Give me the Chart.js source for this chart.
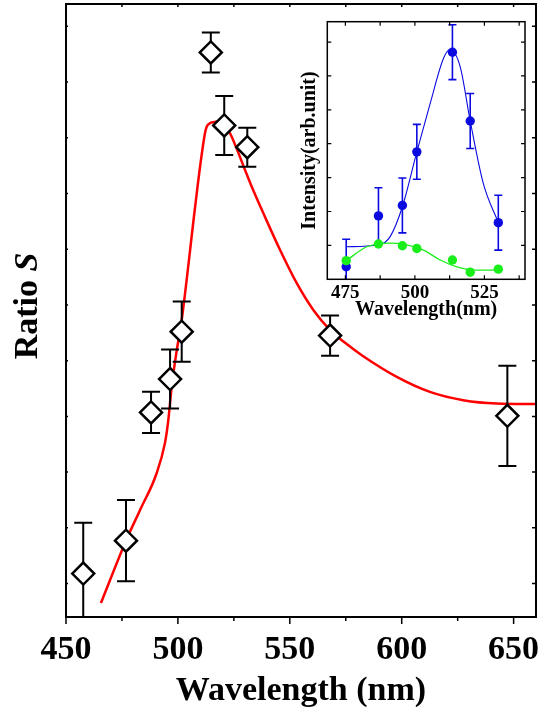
<!DOCTYPE html>
<html lang="en">
<head>
<meta charset="UTF-8">
<title>Ratio S vs Wavelength</title>
<script src="https://cdn.jsdelivr.net/npm/chart.js@4"></script>
<style>
  body { margin: 0; background: #fff; }
  #wrap { position: relative; width: 545px; height: 719px; }
  #mainChart { position: absolute; left: 0; top: 0; }
  #insetChart { position: absolute; left: 290px; top: 10px; }
</style>
</head>
<body>
<div id="wrap">
  <canvas id="mainChart" width="545" height="719"></canvas>
  <canvas id="insetChart" width="250" height="315"></canvas>
</div>
<script>
// main panel: ratio S at each wavelength (arb. units)
const wavelength = [457.7, 476.8, 488.0, 496.5, 501.7, 514.7, 520.7, 531.0, 568.0, 647.2];
const ratioS = [1.18, 1.77, 4.07, 4.67, 5.52, 10.53, 9.22, 8.83, 5.45, 4.01];
const ratioErr = [0.91, 0.73, 0.37, 0.53, 0.54, 0.36, 0.53, 0.35, 0.36, 0.90];

// red fit curve
const fitX = [465.6, 476.8, 483.1, 490.5, 494.2, 495.7, 497.2, 499.5, 501.7, 507.6, 509.9, 512.1, 512.9, 514.3, 515.8, 517.9, 520.5, 523.3, 526.3, 530.0, 533.0, 538.9, 545.6, 553.1, 560.5, 568.0, 574.7, 582.8, 597.8, 612.6, 627.5, 642.4, 660];
const fitY = [0.65, 1.77, 2.32, 2.98, 3.52, 3.93, 4.53, 5.19, 5.73, 7.73, 8.48, 9.08, 9.20, 9.26, 9.28, 9.29, 9.22, 9.08, 8.80, 8.42, 8.12, 7.58, 6.99, 6.39, 5.91, 5.55, 5.32, 5.08, 4.71, 4.44, 4.29, 4.23, 4.22];

const mainXTicks = [450, 475, 500, 525, 550, 575, 600, 625, 650];
const mainXLabels = [450, 500, 550, 600, 650];
const mainYTicks = [1, 2, 3, 4, 5, 6, 7, 8, 9, 10, 11];

// inset: intensity spectra
const insetX = [475.3, 486.9, 495.5, 500.7, 513.5, 519.9, 530.0];
const blueI = [0.37, 1.87, 2.18, 3.76, 6.70, 4.67, 1.67];
const blueErr = [0.81, 0.83, 0.81, 0.81, 0.81, 0.81, 0.81];
const greenI = [0.55, 1.04, 0.99, 0.91, 0.57, 0.21, 0.30];

const blueFitX = [475.3, 486.9, 491.1, 495.5, 500.7, 505.5, 510.3, 512.6, 516.3, 519.9, 524.6, 530.0];
const blueFitY = [0.96, 1.01, 1.26, 2.14, 3.76, 5.19, 6.52, 6.78, 6.27, 4.67, 2.83, 1.67];
const greenFitX = [475.3, 482.7, 491.1, 495.9, 503.1, 509.1, 515.1, 522.3, 530.0];
const greenFitY = [0.55, 0.96, 1.07, 1.04, 0.86, 0.57, 0.37, 0.27, 0.27];

const insetXTicks = [475, 487.5, 500, 512.5, 525, 537.5];
const insetXLabels = [475, 500, 525];
const insetYTicks = [1, 2, 3, 4, 5, 6, 7];

const pts = (xs, ys) => xs.map((x, i) => ({ x: x, y: ys[i] }));

Chart.defaults.font.family = "'Liberation Serif', 'Times New Roman', serif";
Chart.defaults.color = '#000';

// vertical error bars, drawn just under the points of their dataset
const errorBarPlugin = {
  id: 'errorBars',
  beforeDatasetDraw(chart, args) {
    const ds = chart.data.datasets[args.index];
    if (!ds.errors) return;
    const { ctx, chartArea: a } = chart;
    const xs = chart.scales.x, ys = chart.scales.y;
    ctx.save();
    ctx.beginPath();
    ctx.rect(a.left, a.top, a.right - a.left, a.bottom - a.top);
    ctx.clip();
    ctx.strokeStyle = ds.errorColor;
    ctx.lineWidth = ds.errorWidth;
    ctx.beginPath();
    ds.data.forEach((p, i) => {
      const px = xs.getPixelForValue(p.x);
      const top = ys.getPixelForValue(p.y + ds.errors[i]);
      const bot = ys.getPixelForValue(p.y - ds.errors[i]);
      ctx.moveTo(px, top); ctx.lineTo(px, bot);
      ctx.moveTo(px - ds.errorCap, top); ctx.lineTo(px + ds.errorCap, top);
      ctx.moveTo(px - ds.errorCap, bot); ctx.lineTo(px + ds.errorCap, bot);
    });
    ctx.stroke();
    ctx.restore();
  }
};

// box round the plot with small tick marks on all four sides
const framePlugin = {
  id: 'frame',
  afterDatasetsDraw(chart, args, o) {
    const { ctx, chartArea: a } = chart;
    const xs = chart.scales.x, ys = chart.scales.y;
    ctx.save();
    ctx.strokeStyle = '#000';
    ctx.lineWidth = o.tickWidth;
    ctx.beginPath();
    xs.ticks.forEach(t => {
      const p = xs.getPixelForValue(t.value);
      const len = t.label ? o.xMajor : o.xMinor;
      ctx.moveTo(p, a.bottom); ctx.lineTo(p, a.bottom + o.bottomDir * len);
      ctx.moveTo(p, a.top); ctx.lineTo(p, a.top + o.topLen);
    });
    ys.ticks.forEach(t => {
      const p = ys.getPixelForValue(t.value);
      ctx.moveTo(a.left, p); ctx.lineTo(a.left + o.leftLen, p);
      ctx.moveTo(a.right, p); ctx.lineTo(a.right - o.rightLen, p);
    });
    ctx.stroke();
    ctx.lineWidth = o.border;
    ctx.strokeRect(a.left, a.top, a.right - a.left, a.bottom - a.top);
    ctx.restore();
  }
};

// y title "Ratio S" with the S in italics
const yTitlePlugin = {
  id: 'yTitle',
  afterDraw(chart, args, o) {
    if (!o.text) return;
    const ctx = chart.ctx;
    const bold = "bold 34px 'Liberation Serif', 'Times New Roman', serif";
    const italic = "italic bold 34px 'Liberation Serif', 'Times New Roman', serif";
    ctx.save();
    ctx.translate(o.x, o.y);
    ctx.rotate(-Math.PI / 2);
    ctx.fillStyle = '#000';
    ctx.textBaseline = 'alphabetic';
    ctx.font = bold;
    const w1 = ctx.measureText(o.text).width;
    ctx.font = italic;
    const w2 = ctx.measureText(o.symbol).width;
    let x = -(w1 + w2) / 2;
    ctx.font = bold;
    ctx.fillText(o.text, x, 0);
    ctx.font = italic;
    ctx.fillText(o.symbol, x + w1, 0);
    ctx.restore();
  }
};

// fixed box sizes so the plot area sits where the original has it
const fixX = h => s => { s.height = h; s.paddingLeft = 0; s.paddingRight = 0; };
const fixY = w => s => { s.width = w; s.paddingTop = 0; s.paddingBottom = 0; };

new Chart(document.getElementById('mainChart'), {
  type: 'scatter',
  data: {
    datasets: [
      {
        label: 'S',
        data: pts(wavelength, ratioS),
        errors: ratioErr, errorColor: '#000', errorWidth: 2, errorCap: 9,
        pointStyle: 'rectRot',
        pointRadius: 11,
        pointHoverRadius: 11,
        pointBorderWidth: 2.5,
        pointBorderColor: '#000',
        pointBackgroundColor: '#fff',
        order: 0
      },
      {
        label: 'fit',
        data: pts(fitX, fitY),
        showLine: true,
        borderColor: '#ff0000',
        borderWidth: 2.5,
        pointRadius: 0,
        cubicInterpolationMode: 'monotone',
        order: 1
      }
    ]
  },
  options: {
    responsive: false,
    animation: false,
    layout: { autoPadding: false, padding: { left: 0, right: 9, top: 4, bottom: 0 } },
    plugins: {
      legend: { display: false },
      tooltip: { enabled: false },
      frame: { border: 2, tickWidth: 1.5, xMajor: 7, xMinor: 4, bottomDir: 1, topLen: 3, leftLen: 2, rightLen: 4 },
      yTitle: { text: 'Ratio ', symbol: 'S', x: 37, y: 306 }
    },
    scales: {
      x: {
        type: 'linear',
        min: 450,
        max: 660,
        afterBuildTicks: s => { s.ticks = mainXTicks.map(v => ({ value: v })); },
        afterFit: fixX(102),
        grid: { display: false, drawTicks: false },
        border: { display: false },
        ticks: {
          padding: 13,
          autoSkip: false,
          maxRotation: 0,
          font: { size: 34, weight: 'bold' },
          callback: v => mainXLabels.includes(v) ? String(v) : ''
        },
        title: {
          display: true,
          text: 'Wavelength (nm)',
          font: { size: 34, weight: 'bold' },
          padding: { top: 0, bottom: 7 }
        }
      },
      y: {
        type: 'linear',
        min: 0.4,
        max: 11.4,
        afterBuildTicks: s => { s.ticks = mainYTicks.map(v => ({ value: v })); },
        afterFit: fixY(66),
        grid: { display: false, drawTicks: false },
        border: { display: false },
        ticks: { display: false }
      }
    }
  },
  plugins: [errorBarPlugin, framePlugin, yTitlePlugin]
});

new Chart(document.getElementById('insetChart'), {
  type: 'scatter',
  data: {
    datasets: [
      {
        label: 'green',
        data: pts(insetX, greenI),
        pointRadius: 4.7,
        pointBorderWidth: 0,
        pointBackgroundColor: '#1aee1a',
        order: 0
      },
      {
        label: 'green fit',
        data: pts(greenFitX, greenFitY),
        showLine: true,
        borderColor: '#1aee1a',
        borderWidth: 1.3,
        pointRadius: 0,
        cubicInterpolationMode: 'monotone',
        order: 1
      },
      {
        label: 'blue',
        data: pts(insetX, blueI),
        errors: blueErr, errorColor: '#0a0ae0', errorWidth: 1.6, errorCap: 4,
        pointRadius: 4.7,
        pointBorderWidth: 0,
        pointBackgroundColor: '#0a0ae0',
        order: 2
      },
      {
        label: 'blue fit',
        data: pts(blueFitX, blueFitY),
        showLine: true,
        borderColor: '#0a0ae0',
        borderWidth: 1.1,
        pointRadius: 0,
        cubicInterpolationMode: 'monotone',
        order: 3
      }
    ]
  },
  options: {
    responsive: false,
    animation: false,
    layout: { autoPadding: false, padding: { left: 0, right: 15, top: 11.7, bottom: 0 } },
    plugins: {
      legend: { display: false },
      tooltip: { enabled: false },
      frame: { border: 1.5, tickWidth: 1.2, xMajor: 4, xMinor: 4, bottomDir: -1, topLen: 4, leftLen: 4, rightLen: 4 }
    },
    scales: {
      x: {
        type: 'linear',
        min: 468.5,
        max: 539.6,
        afterBuildTicks: s => { s.ticks = insetXTicks.map(v => ({ value: v })); },
        afterFit: fixX(45.7),
        grid: { display: false, drawTicks: false },
        border: { display: false },
        ticks: {
          padding: 2,
          autoSkip: false,
          maxRotation: 0,
          font: { size: 19, weight: 'bold' },
          callback: v => insetXLabels.includes(v) ? String(v) : ''
        },
        title: {
          display: true,
          text: 'Wavelength(nm)',
          font: { size: 20, weight: 'bold' },
          padding: { top: 0, bottom: 3 }
        }
      },
      y: {
        type: 'linear',
        min: 0,
        max: 7.6,
        afterBuildTicks: s => { s.ticks = insetYTicks.map(v => ({ value: v })); },
        afterFit: fixY(37.3),
        grid: { display: false, drawTicks: false },
        border: { display: false },
        ticks: { display: false },
        title: {
          display: true,
          text: 'Intensity(arb.unit)',
          font: { size: 20, weight: 'bold' },
          padding: { top: 8, bottom: 0 }
        }
      }
    }
  },
  plugins: [errorBarPlugin, framePlugin]
});
</script>
</body>
</html>
